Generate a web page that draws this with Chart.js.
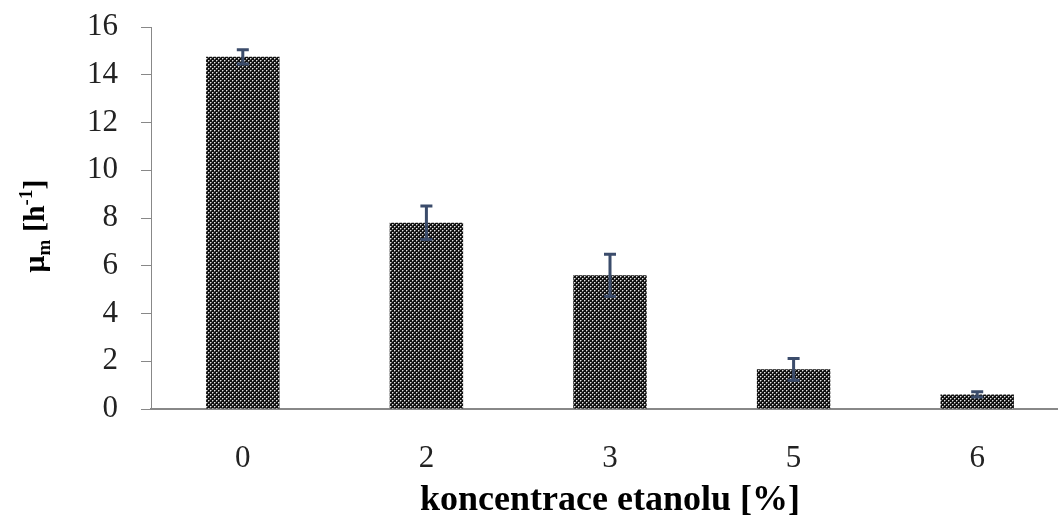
<!DOCTYPE html>
<html>
<head>
<meta charset="utf-8">
<script src="https://cdn.jsdelivr.net/npm/chart.js@4/dist/chart.umd.min.js"></script>
<style>
  html, body { margin: 0; padding: 0; background: #fff; overflow: hidden; }
  #wrap { width: 1070px; height: 522px; }
</style>
</head>
<body>
<div id="wrap"><canvas id="grafico" width="1070" height="522"></canvas></div>
<script>
// Dados
const koncentrace = ["0", "2", "3", "5", "6"];
const mu = [14.75, 7.8, 5.6, 1.66, 0.61];
const chyba = [0.3, 0.7, 0.88, 0.46, 0.11];
const yTicks = [0, 2, 4, 6, 8, 10, 12, 14, 16];

// Padrão quadriculado das barras
function vzor() {
    const c = document.createElement("canvas");
    c.width = 4; c.height = 4;
    const g = c.getContext("2d");
    g.fillStyle = "#111";
    g.fillRect(0, 0, 4, 4);
    g.fillStyle = "#e6e6e6";
    g.fillRect(0, 0, 1, 1);
    g.fillRect(2, 2, 1, 1);
    g.fillStyle = "#707070";
    g.fillRect(1, 0, 1, 1);
    g.fillRect(0, 1, 1, 1);
    g.fillRect(3, 2, 1, 1);
    g.fillRect(2, 3, 1, 1);
    return g.createPattern(c, "repeat");
}

// Barras de erro desenhadas a partir das escalas
const errorBars = {
    id: "errorBars",
    afterDatasetsDraw(chart) {
        const ctx = chart.ctx;
        const y = chart.scales.y;
        const meta = chart.getDatasetMeta(0);
        ctx.save();
        ctx.strokeStyle = "#3b4c6b";
        ctx.lineWidth = 3;
        meta.data.forEach((bar, i) => {
            const x = bar.x;
            const top = y.getPixelForValue(mu[i] + chyba[i]);
            const bot = y.getPixelForValue(mu[i] - chyba[i]);
            ctx.beginPath();
            ctx.moveTo(x, top);
            ctx.lineTo(x, bot);
            ctx.moveTo(x - 6, top);
            ctx.lineTo(x + 6, top);
            ctx.moveTo(x - 6, bot);
            ctx.lineTo(x + 6, bot);
            ctx.stroke();
        });
        ctx.restore();
    }
};

// Título do eixo y com índice e expoente
const yTitulo = {
    id: "yTitulo",
    afterDraw(chart) {
        const ctx = chart.ctx;
        ctx.save();
        ctx.translate(44, 226);
        ctx.rotate(-Math.PI / 2);
        ctx.fillStyle = "#000";
        ctx.textBaseline = "alphabetic";
        const big = "bold 30px 'Liberation Serif'";
        const small = "bold 19px 'Liberation Serif'";
        const parts = [
            ["μ", big, 0], ["m", small, 6], [" [h", big, 0], ["-1", small, -12], ["]", big, 0]
        ];
        let w = 0;
        parts.forEach(p => { ctx.font = p[1]; w += ctx.measureText(p[0]).width; });
        let x = -w / 2;
        parts.forEach(p => {
            ctx.font = p[1];
            ctx.fillText(p[0], x, p[2]);
            x += ctx.measureText(p[0]).width;
        });
        ctx.restore();
    }
};

const ctx = document.getElementById("grafico").getContext("2d");
new Chart(ctx, {
    type: "bar",
    data: {
        labels: koncentrace,
        datasets: [{
            data: mu,
            backgroundColor: vzor(),
            borderWidth: 0,
            barPercentage: 0.4,
            categoryPercentage: 1.0
        }]
    },
    options: {
        responsive: false,
        animation: false,
        layout: { padding: { top: 27, right: 1, left: 0, bottom: 0 } },
        plugins: { legend: { display: false }, tooltip: { enabled: false } },
        scales: {
            x: {
                afterFit: s => { s.height = 113; },
                grid: { display: false, drawTicks: false },
                border: { color: "#888", width: 2 },
                ticks: {
                    color: "#222",
                    padding: 31,
                    font: { family: "'Liberation Serif'", size: 31 }
                },
                title: {
                    display: true,
                    text: "koncentrace etanolu [%]",
                    color: "#000",
                    padding: { top: 13, bottom: 0 },
                    font: { family: "'Liberation Serif'", size: 36, weight: "bold" }
                }
            },
            y: {
                min: 0,
                max: 16,
                afterFit: s => { s.width = 151; },
                afterBuildTicks: s => { s.ticks = yTicks.map(v => ({ value: v })); },
                grid: { drawOnChartArea: false, tickLength: 10, color: "#888", lineWidth: 1 },
                border: { color: "#888", width: 1 },
                ticks: {
                    color: "#222",
                    padding: 23,
                    font: { family: "'Liberation Serif'", size: 31, lineHeight: 0.2 }
                }
            }
        }
    },
    plugins: [errorBars, yTitulo]
});
</script>
</body>
</html>
